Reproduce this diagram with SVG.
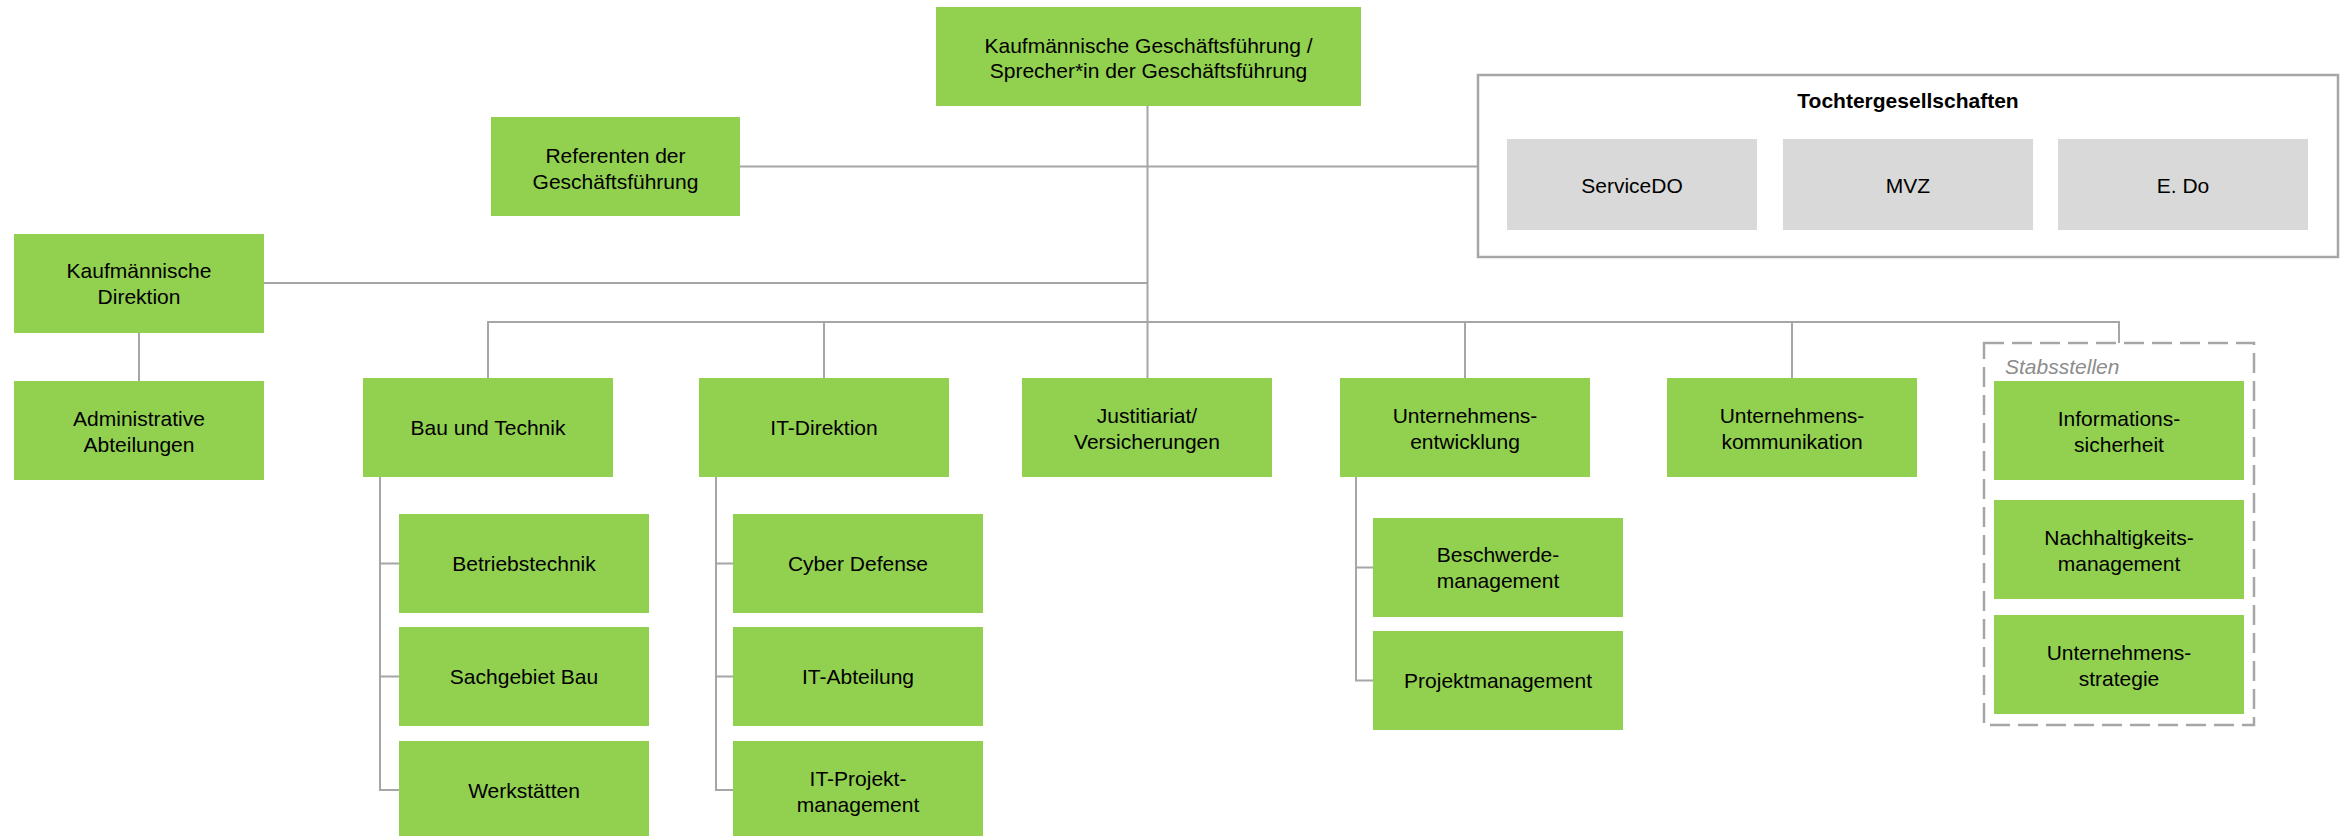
<svg xmlns="http://www.w3.org/2000/svg" width="2349" height="836" viewBox="0 0 2349 836">
<style>
.n{fill:#92d050}
.s{fill:#d9d9d9}
.t{font-family:"Liberation Sans",Arial,sans-serif;font-size:21px;fill:#000;text-anchor:middle}
.b{font-weight:bold}
.c{fill:none;stroke:#a6a6a6;stroke-width:2}
.f{fill:#fff;stroke:#a6a6a6;stroke-width:2.5}
.d{fill:none;stroke:#a6a6a6;stroke-width:2.5;stroke-dasharray:20 8}
.st{font-family:"Liberation Sans",Arial,sans-serif;font-size:21px;font-style:italic;fill:#8c8c8c}
</style>
<rect width="2349" height="836" fill="#fff"/>
<g id="tochter-frame">
<rect class="f" x="1478" y="75" width="860" height="182"/>
<text class="t b" x="1908" y="107.5">Tochtergesellschaften</text>
</g>
<g id="stabsstellen-frame">
<rect class="d" x="1984" y="343" width="270" height="382"/>
<text class="st" x="2005" y="374">Stabsstellen</text>
</g>
<g id="connectors">
<path class="c" d="M1147.5 106V378"/>
<path class="c" d="M740 166.5H1477"/>
<path class="c" d="M264 283H1147.5"/>
<path class="c" d="M139 333V381"/>
<path class="c" d="M488 378V322H2119V343"/>
<path class="c" d="M824 322V378M1465 322V378M1792 322V378"/>
<path class="c" d="M380 477V790H399M380 563.5H399M380 676.5H399"/>
<path class="c" d="M716 477V790H733M716 563.5H733M716 676.5H733"/>
<path class="c" d="M1356 477V680.5H1373M1356 567.5H1373"/>
</g>
<g id="gf">
<rect class="n" x="936" y="7" width="425" height="99"/>
<text class="t" x="1148.5" y="52.5">Kaufmännische Geschäftsführung /</text>
<text class="t" x="1148.5" y="77.5">Sprecher*in der Geschäftsführung</text>
</g>
<g id="referenten">
<rect class="n" x="491" y="117" width="249" height="99"/>
<text class="t" x="615.5" y="162.5">Referenten der</text>
<text class="t" x="615.5" y="188.5">Geschäftsführung</text>
</g>
<g id="kaufm-direktion">
<rect class="n" x="14" y="234" width="250" height="99"/>
<text class="t" x="139" y="278">Kaufmännische</text>
<text class="t" x="139" y="304">Direktion</text>
</g>
<g id="admin">
<rect class="n" x="14" y="381" width="250" height="99"/>
<text class="t" x="139" y="425.5">Administrative</text>
<text class="t" x="139" y="451.5">Abteilungen</text>
</g>
<g id="bau">
<rect class="n" x="363" y="378" width="250" height="99"/>
<text class="t" x="488" y="435">Bau und Technik</text>
</g>
<g id="it">
<rect class="n" x="699" y="378" width="250" height="99"/>
<text class="t" x="824" y="435">IT-Direktion</text>
</g>
<g id="justitiariat">
<rect class="n" x="1022" y="378" width="250" height="99"/>
<text class="t" x="1147" y="422.5">Justitiariat/</text>
<text class="t" x="1147" y="448.5">Versicherungen</text>
</g>
<g id="ue">
<rect class="n" x="1340" y="378" width="250" height="99"/>
<text class="t" x="1465" y="422.5">Unternehmens-</text>
<text class="t" x="1465" y="448.5">entwicklung</text>
</g>
<g id="uk">
<rect class="n" x="1667" y="378" width="250" height="99"/>
<text class="t" x="1792" y="422.5">Unternehmens-</text>
<text class="t" x="1792" y="448.5">kommunikation</text>
</g>
<g id="betriebstechnik">
<rect class="n" x="399" y="514" width="250" height="99"/>
<text class="t" x="524" y="571">Betriebstechnik</text>
</g>
<g id="sachgebiet">
<rect class="n" x="399" y="627" width="250" height="99"/>
<text class="t" x="524" y="684">Sachgebiet Bau</text>
</g>
<g id="werkstaetten">
<rect class="n" x="399" y="741" width="250" height="99"/>
<text class="t" x="524" y="798">Werkstätten</text>
</g>
<g id="cyber">
<rect class="n" x="733" y="514" width="250" height="99"/>
<text class="t" x="858" y="571">Cyber Defense</text>
</g>
<g id="it-abteilung">
<rect class="n" x="733" y="627" width="250" height="99"/>
<text class="t" x="858" y="684">IT-Abteilung</text>
</g>
<g id="it-projekt">
<rect class="n" x="733" y="741" width="250" height="99"/>
<text class="t" x="858" y="785.5">IT-Projekt-</text>
<text class="t" x="858" y="811.5">management</text>
</g>
<g id="beschwerde">
<rect class="n" x="1373" y="518" width="250" height="99"/>
<text class="t" x="1498" y="562">Beschwerde-</text>
<text class="t" x="1498" y="588">management</text>
</g>
<g id="projektmanagement">
<rect class="n" x="1373" y="631" width="250" height="99"/>
<text class="t" x="1498" y="688">Projektmanagement</text>
</g>
<g id="infosec">
<rect class="n" x="1994" y="381" width="250" height="99"/>
<text class="t" x="2119" y="425.5">Informations-</text>
<text class="t" x="2119" y="451.5">sicherheit</text>
</g>
<g id="nachhaltigkeit">
<rect class="n" x="1994" y="500" width="250" height="99"/>
<text class="t" x="2119" y="544.5">Nachhaltigkeits-</text>
<text class="t" x="2119" y="570.5">management</text>
</g>
<g id="strategie">
<rect class="n" x="1994" y="615" width="250" height="99"/>
<text class="t" x="2119" y="659.5">Unternehmens-</text>
<text class="t" x="2119" y="685.5">strategie</text>
</g>
<g id="servicedo">
<rect class="s" x="1507" y="139" width="250" height="91"/>
<text class="t" x="1632" y="192.5">ServiceDO</text>
</g>
<g id="mvz">
<rect class="s" x="1783" y="139" width="250" height="91"/>
<text class="t" x="1908" y="192.5">MVZ</text>
</g>
<g id="edo">
<rect class="s" x="2058" y="139" width="250" height="91"/>
<text class="t" x="2183" y="192.5">E. Do</text>
</g>
</svg>
